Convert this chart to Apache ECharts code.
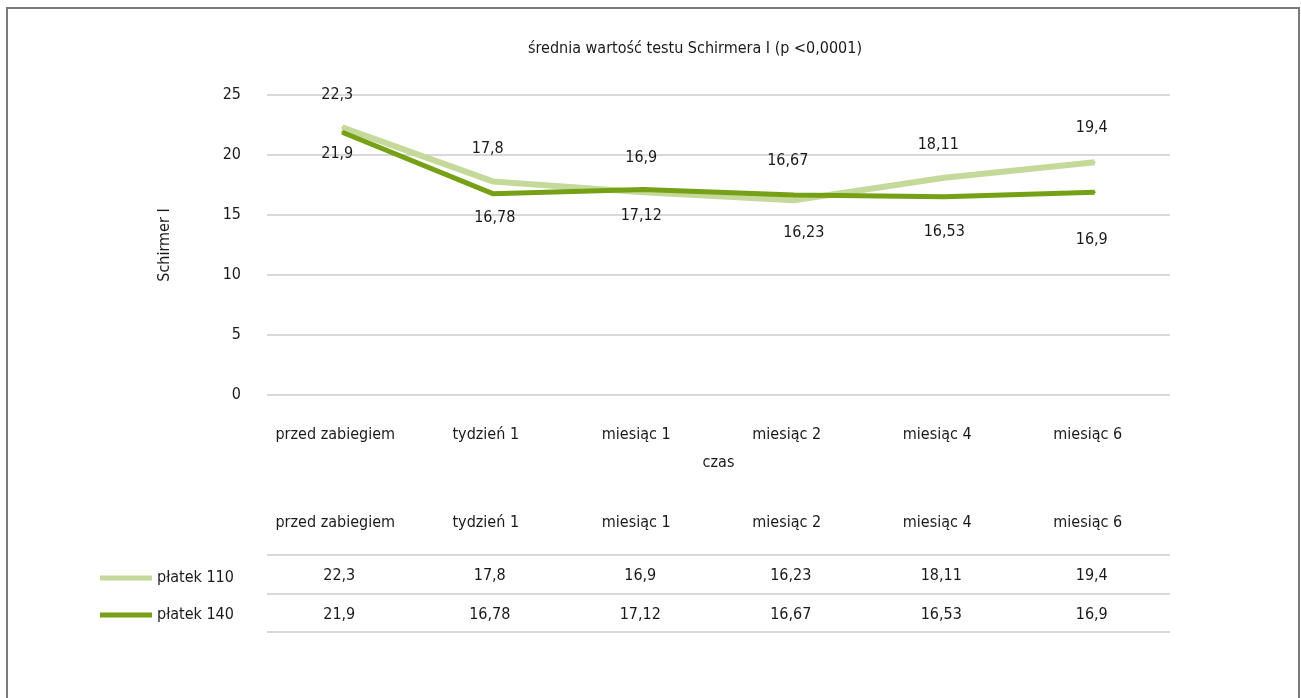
<!DOCTYPE html>
<html>
<head>
<meta charset="utf-8">
<title>Schirmer I</title>
<script src="https://cdn.jsdelivr.net/npm/echarts@6/dist/echarts.min.js"></script>
<style>
  html, body { margin: 0; padding: 0; background: #fff; }
  #frame { position: absolute; left: 6px; top: 7px; width: 1294px; height: 700px; border-left: 2px solid #7a7a7a; border-top: 2px solid #7a7a7a; border-right: 2px solid #7a7a7a; box-sizing: border-box; }
  #chart { position: absolute; left: 0; top: 0; width: 1301px; height: 698px; }
</style>
</head>
<body>
<div id="frame"></div>
<div id="chart"></div>
<script>
// Time points of the follow-up
const categories = ['przed zabiegiem', 'tydzień 1', 'miesiąc 1', 'miesiąc 2', 'miesiąc 4', 'miesiąc 6'];
// Mean Schirmer I values per flap thickness
const seriesNames = ['płatek 110', 'płatek 140'];
const flap110 = [22.3, 17.8, 16.9, 16.23, 18.11, 19.4];
const flap140 = [21.9, 16.78, 17.12, 16.67, 16.53, 16.9];
// Value axis ticks
const yTicks = [0, 5, 10, 15, 20, 25];

const FONT = "'Liberation Sans Narrow', 'DejaVu Sans Condensed', 'Noto Sans', sans-serif";
const FS = 16;
const TEXT = '#1a1a1a';
const GRID_LINE = '#d9d9d9';
const colors = ['#c5d99b', '#76a015'];

// Value label placement: side of the line, distance, horizontal nudge
const labelPlace110 = [['top', 24, -5], ['top', 24, -5], ['top', 25, -2], ['bottom', 24, 10], ['top', 24, -6], ['top', 25, -3]];
const labelPlace140 = [['bottom', 13, -5], ['bottom', 15, 2], ['bottom', 17, -2], ['top', 25, -6], ['bottom', 26, 0], ['bottom', 39, -3]];

const fmt = v => String(v).replace('.', ',');

function withLabels(values, places) {
  return values.map((v, i) => ({
    value: v,
    label: { show: true, position: places[i][0], distance: places[i][1], offset: [places[i][2], 0] }
  }));
}

const tableRows = [flap110, flap140];
const tableData = [];
tableRows.forEach((row, r) => row.forEach((v, c) => tableData.push([c, r, v])));

const chart = echarts.init(document.getElementById('chart'), null, { renderer: 'canvas' });

const lineLabel = { show: true, fontFamily: FONT, fontSize: FS, color: TEXT, formatter: p => fmt(p.value) };

chart.setOption({
  animation: false,
  textStyle: { fontFamily: FONT, color: TEXT },
  title: {
    text: 'średnia wartość testu Schirmera I (p <0,0001)',
    left: 690, top: 36, textAlign: 'center',
    textStyle: { fontFamily: FONT, fontSize: FS, fontWeight: 'normal', color: TEXT }
  },
  legend: {
    orient: 'vertical',
    left: 100, top: 570, padding: 0,
    itemWidth: 52, itemHeight: 5, itemGap: 21,
    icon: 'rect',
    textStyle: { fontFamily: FONT, fontSize: FS, color: TEXT },
    data: seriesNames
  },
  grid: [
    { left: 267, right: 131, top: 95, height: 300 },
    { left: 267, right: 131, top: 555, height: 77 }
  ],
  xAxis: [
    {
      gridIndex: 0, type: 'category', data: categories, boundaryGap: true,
      name: 'czas', nameLocation: 'middle', nameGap: 60,
      nameTextStyle: { fontFamily: FONT, fontSize: FS, color: TEXT },
      axisLine: { show: false }, axisTick: { show: false },
      axisLabel: { interval: 0, fontFamily: FONT, fontSize: FS, color: TEXT, margin: 32, padding: [0, 14, 0, 0] }
    },
    {
      gridIndex: 1, type: 'category', data: categories, boundaryGap: true, position: 'top',
      axisLine: { show: false }, axisTick: { show: false },
      axisLabel: { interval: 0, fontFamily: FONT, fontSize: FS, color: TEXT, margin: 24, padding: [0, 14, 0, 0] }
    }
  ],
  yAxis: [
    {
      gridIndex: 0, type: 'value', min: yTicks[0], max: yTicks[yTicks.length - 1], interval: 5,
      name: 'Schirmer I', nameLocation: 'middle', nameGap: 94, nameRotate: 90,
      nameTextStyle: { fontFamily: FONT, fontSize: FS, color: TEXT },
      axisLine: { show: false }, axisTick: { show: false },
      axisLabel: { fontFamily: FONT, fontSize: FS, color: TEXT, margin: 26 },
      splitLine: { show: true, lineStyle: { color: GRID_LINE, width: 2 } }
    },
    {
      gridIndex: 1, type: 'category', data: seriesNames, inverse: true, boundaryGap: true,
      axisLine: { show: false }, axisTick: { show: false }, axisLabel: { show: false },
      splitLine: { show: true, showMinLine: true, showMaxLine: true, lineStyle: { color: GRID_LINE, width: 2 } }
    }
  ],
  series: [
    {
      name: seriesNames[0], type: 'line', xAxisIndex: 0, yAxisIndex: 0,
      data: withLabels(flap110, labelPlace110),
      symbol: 'circle', symbolSize: 2, showSymbol: true, color: colors[0],
      itemStyle: { color: colors[0] },
      lineStyle: { width: 6, color: colors[0] },
      label: lineLabel,
      z: 2
    },
    {
      name: seriesNames[1], type: 'line', xAxisIndex: 0, yAxisIndex: 0,
      data: withLabels(flap140, labelPlace140),
      symbol: 'circle', symbolSize: 2, showSymbol: true, color: colors[1],
      itemStyle: { color: colors[1] },
      lineStyle: { width: 5, color: colors[1] },
      label: lineLabel,
      z: 3
    },
    {
      // Value table beneath the chart
      type: 'custom', xAxisIndex: 1, yAxisIndex: 1,
      data: tableData, silent: true,
      renderItem: (params, api) => {
        const pt = api.coord([api.value(0), api.value(1)]);
        return {
          type: 'text',
          x: pt[0] - 3, y: pt[1] + 2,
          style: {
            text: fmt(api.value(2)),
            fontFamily: FONT, fontSize: FS, fill: TEXT,
            align: 'center', verticalAlign: 'middle'
          }
        };
      }
    }
  ]
});
</script>
</body>
</html>
